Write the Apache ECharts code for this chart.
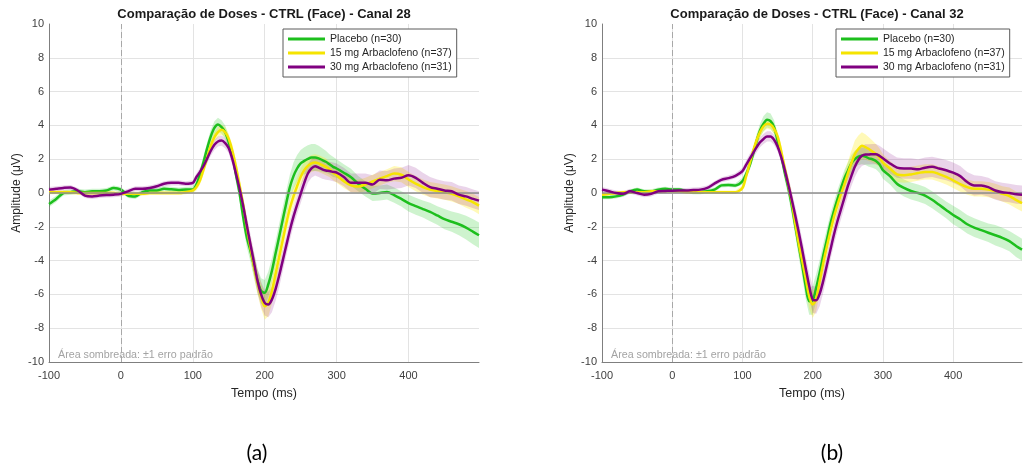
<!DOCTYPE html>
<html>
<head>
<meta charset="utf-8">
<script src="https://cdn.jsdelivr.net/npm/echarts@6/dist/echarts.min.js"></script>
<style>
html,body{margin:0;padding:0;background:#fff;}
#chart{width:1025px;height:467px;}
</style>
</head>
<body>
<div id="chart"></div>
<script>
// ---- Data ----
const TIME = [-100,-90,-80,-70,-60,-50,-40,-30,-20,-10,0,10,20,30,40,50,60,70,80,90,
  100,105,110,115,120,125,130,135,140,145,150,155,160,165,170,175,180,185,190,195,
  200,205,210,215,220,225,230,235,240,245,250,255,260,265,270,275,280,285,290,295,
  300,310,320,330,340,350,360,370,380,390,400,410,420,430,440,450,460,470,480,490,498];

const SERIES_NAMES = ['Placebo (n=30)', '15 mg Arbaclofeno (n=37)', '30 mg Arbaclofeno (n=31)'];
const TITLES = ['Comparação de Doses - CTRL (Face) - Canal 28', 'Comparação de Doses - CTRL (Face) - Canal 32'];
const PANEL_LABELS = ['(a)', '(b)'];
const NOTE = 'Área sombreada: \u00b11 erro padrão';

// Canal 28 means
const CH28_PLACEBO = [-0.65,-0.35,0.0,0.05,0.1,0.05,0.1,0.1,0.15,0.3,0.2,-0.15,-0.2,0.05,0.15,0.15,0.25,0.22,0.18,0.2,
  0.2,0.5,1.1,1.85,2.65,3.35,3.85,4.05,3.9,3.6,3.0,2.25,1.1,0.0,-1.4,-2.6,-3.4,-4.3,-5.2,-5.8,
  -5.9,-5.4,-4.6,-3.6,-2.6,-1.6,-0.6,0.35,1.0,1.45,1.75,1.9,2.02,2.1,2.1,2.05,1.95,1.85,1.7,1.55,
  1.45,1.2,0.93,0.55,0.25,-0.03,0.0,0.06,-0.12,-0.35,-0.6,-0.78,-0.95,-1.12,-1.33,-1.55,-1.7,-1.85,-2.05,-2.3,-2.5];
const CH28_15MG = [0.05,0.05,0.05,0.05,0.0,0.0,0.0,0.0,0.0,0.0,-0.05,-0.05,-0.05,-0.05,0.0,0.0,0.0,0.0,0.0,0.05,
  0.15,0.35,0.75,1.4,2.1,2.8,3.3,3.6,3.75,3.6,3.2,2.5,1.55,0.45,-0.7,-2.0,-3.2,-4.3,-5.3,-6.1,
  -6.7,-6.5,-5.8,-4.8,-3.8,-2.8,-1.8,-0.9,-0.2,0.4,0.95,1.35,1.6,1.75,1.8,1.75,1.65,1.55,1.4,1.2,
  1.05,0.7,0.45,0.38,0.5,0.68,0.85,1.0,1.15,1.08,0.8,0.55,0.35,0.2,0.12,0.05,-0.05,-0.2,-0.38,-0.55,-0.75];
const CH28_30MG = [0.2,0.25,0.3,0.33,0.15,-0.15,-0.2,-0.15,-0.12,-0.1,-0.05,0.1,0.25,0.25,0.3,0.4,0.55,0.6,0.6,0.55,
  0.6,0.95,1.25,1.6,2.05,2.5,2.85,3.05,3.1,2.95,2.65,2.0,1.15,0.25,-0.75,-1.9,-3.0,-4.1,-5.2,-6.0,
  -6.5,-6.6,-6.3,-5.7,-4.9,-4.0,-3.1,-2.2,-1.4,-0.7,-0.05,0.6,1.15,1.45,1.58,1.5,1.4,1.33,1.3,1.25,
  1.2,0.95,0.6,0.6,0.6,0.5,0.78,0.75,0.85,0.9,1.05,0.9,0.6,0.35,0.25,0.15,0.1,-0.1,-0.2,-0.35,-0.45];

// Canal 28 standard errors
const CH28_PLACEBO_SE = [0.2,0.18,0.15,0.15,0.15,0.15,0.15,0.15,0.15,0.15,0.15,0.15,0.15,0.15,0.15,0.15,0.15,0.15,0.15,0.15,
  0.2,0.25,0.3,0.35,0.35,0.4,0.4,0.4,0.4,0.4,0.4,0.4,0.45,0.5,0.55,0.6,0.65,0.7,0.7,0.75,
  0.75,0.75,0.75,0.75,0.75,0.75,0.75,0.75,0.8,0.8,0.8,0.8,0.8,0.8,0.8,0.75,0.7,0.65,0.6,0.6,
  0.55,0.5,0.5,0.45,0.45,0.45,0.45,0.45,0.45,0.45,0.5,0.5,0.5,0.55,0.55,0.6,0.6,0.65,0.7,0.75,0.75];
const CH28_15MG_SE = [0.12,0.12,0.12,0.12,0.12,0.12,0.12,0.12,0.12,0.12,0.12,0.12,0.12,0.12,0.12,0.12,0.12,0.12,0.12,0.12,
  0.15,0.2,0.25,0.3,0.3,0.3,0.3,0.3,0.3,0.3,0.3,0.35,0.4,0.45,0.5,0.55,0.6,0.65,0.7,0.75,
  0.8,0.8,0.75,0.7,0.65,0.6,0.6,0.55,0.55,0.5,0.5,0.5,0.5,0.5,0.5,0.5,0.5,0.5,0.45,0.45,
  0.45,0.4,0.4,0.4,0.4,0.4,0.4,0.4,0.45,0.45,0.45,0.45,0.45,0.45,0.45,0.45,0.45,0.45,0.5,0.5,0.5];
const CH28_30MG_SE = [0.15,0.15,0.15,0.15,0.15,0.15,0.15,0.15,0.15,0.15,0.15,0.15,0.15,0.15,0.15,0.15,0.15,0.15,0.15,0.15,
  0.15,0.2,0.25,0.25,0.3,0.3,0.3,0.3,0.3,0.3,0.3,0.35,0.4,0.45,0.5,0.55,0.6,0.65,0.7,0.75,
  0.75,0.75,0.75,0.7,0.7,0.65,0.6,0.6,0.55,0.55,0.55,0.55,0.55,0.55,0.55,0.55,0.55,0.55,0.55,0.55,
  0.55,0.55,0.55,0.55,0.55,0.55,0.55,0.55,0.6,0.6,0.6,0.6,0.6,0.6,0.55,0.55,0.55,0.55,0.55,0.55,0.55];

// Canal 32 means
const CH32_PLACEBO = [-0.25,-0.25,-0.2,-0.1,0.1,0.2,0.1,0.1,0.2,0.25,0.2,0.2,0.1,0.05,0.05,0.1,0.2,0.45,0.48,0.45,
  0.7,1.1,1.6,2.3,3.05,3.7,4.1,4.33,4.25,3.9,3.1,2.25,1.25,0.35,-0.7,-1.9,-3.1,-4.25,-5.5,-6.4,
  -6.35,-5.6,-4.7,-3.7,-2.8,-1.85,-1.1,-0.4,0.25,0.85,1.3,1.75,2.0,2.15,2.2,2.15,2.05,2.0,1.9,1.7,
  1.35,1.0,0.55,0.3,0.12,0.0,-0.15,-0.4,-0.7,-1.0,-1.3,-1.55,-1.85,-2.05,-2.2,-2.35,-2.5,-2.65,-2.85,-3.15,-3.35];
const CH32_15MG = [-0.1,-0.05,0.0,0.05,0.05,0.05,0.05,0.1,0.1,0.1,0.1,0.1,0.05,0.05,0.05,0.05,0.05,0.05,0.05,0.05,
  0.3,0.95,1.7,2.45,3.1,3.6,3.95,4.1,4.05,3.8,3.35,2.5,1.5,0.55,-0.45,-1.75,-2.95,-4.0,-5.05,-6.1,
  -6.6,-6.25,-5.2,-4.15,-3.2,-2.3,-1.45,-0.75,-0.1,0.5,1.15,1.75,2.3,2.6,2.8,2.72,2.6,2.45,2.3,2.1,
  1.8,1.45,1.1,1.05,1.1,1.18,1.25,1.25,1.12,0.95,0.75,0.52,0.35,0.25,0.25,0.2,0.1,-0.05,-0.18,-0.42,-0.6];
const CH32_30MG = [0.2,0.1,0.0,-0.05,0.1,0.0,-0.1,-0.05,0.1,0.12,0.14,0.15,0.15,0.18,0.2,0.3,0.55,0.78,0.88,1.02,
  1.3,1.65,2.0,2.35,2.7,3.0,3.2,3.35,3.35,3.15,2.75,2.15,1.4,0.55,-0.35,-1.3,-2.3,-3.35,-4.45,-5.5,
  -6.3,-6.35,-5.95,-5.2,-4.3,-3.4,-2.5,-1.7,-1.0,-0.3,0.4,1.0,1.55,1.95,2.2,2.28,2.28,2.3,2.3,2.2,
  2.05,1.75,1.5,1.45,1.45,1.4,1.5,1.55,1.45,1.35,1.2,1.0,0.65,0.45,0.45,0.35,0.15,0.05,0.0,-0.08,-0.1];

// Canal 32 standard errors
const CH32_PLACEBO_SE = [0.12,0.12,0.12,0.12,0.12,0.12,0.12,0.12,0.12,0.12,0.12,0.12,0.12,0.12,0.12,0.12,0.12,0.12,0.12,0.12,
  0.2,0.25,0.3,0.35,0.4,0.4,0.45,0.45,0.45,0.4,0.4,0.4,0.45,0.5,0.55,0.6,0.65,0.7,0.75,0.8,
  0.85,0.8,0.75,0.7,0.65,0.6,0.55,0.55,0.5,0.5,0.5,0.5,0.5,0.5,0.5,0.5,0.5,0.5,0.5,0.5,
  0.5,0.5,0.5,0.5,0.5,0.5,0.5,0.5,0.5,0.5,0.55,0.55,0.55,0.55,0.55,0.55,0.6,0.6,0.6,0.65,0.65];
const CH32_15MG_SE = [0.1,0.1,0.1,0.1,0.1,0.1,0.1,0.1,0.1,0.1,0.1,0.1,0.1,0.1,0.1,0.1,0.1,0.1,0.1,0.1,
  0.15,0.2,0.25,0.3,0.3,0.3,0.3,0.3,0.3,0.3,0.3,0.35,0.4,0.45,0.5,0.55,0.6,0.65,0.7,0.75,
  0.8,0.75,0.7,0.65,0.6,0.6,0.6,0.6,0.6,0.65,0.7,0.75,0.8,0.8,0.8,0.75,0.7,0.65,0.6,0.55,
  0.5,0.45,0.45,0.45,0.45,0.45,0.45,0.45,0.45,0.45,0.45,0.45,0.45,0.45,0.45,0.45,0.45,0.45,0.5,0.5,0.5];
const CH32_30MG_SE = [0.15,0.15,0.15,0.15,0.15,0.15,0.15,0.15,0.15,0.15,0.15,0.15,0.15,0.15,0.15,0.15,0.15,0.15,0.15,0.15,
  0.2,0.25,0.3,0.3,0.3,0.3,0.3,0.3,0.3,0.3,0.3,0.35,0.4,0.45,0.5,0.55,0.6,0.65,0.7,0.75,
  0.8,0.8,0.75,0.7,0.65,0.6,0.6,0.6,0.6,0.6,0.6,0.6,0.6,0.6,0.6,0.6,0.6,0.6,0.6,0.6,
  0.6,0.6,0.6,0.6,0.6,0.6,0.6,0.6,0.6,0.6,0.6,0.6,0.6,0.6,0.55,0.55,0.55,0.55,0.55,0.55,0.55];

// ---- Styling ----
const FONT = "'Liberation Sans', Arial, sans-serif";
const LINE_COLORS = ['#1dbf1d', '#f5e400', '#800080'];
const BAND_COLORS = ['rgba(30,200,30,0.22)', 'rgba(255,235,0,0.28)', 'rgba(128,0,128,0.17)'];

const PANELS = [
  {means:[CH28_PLACEBO, CH28_15MG, CH28_30MG], ses:[CH28_PLACEBO_SE, CH28_15MG_SE, CH28_30MG_SE]},
  {means:[CH32_PLACEBO, CH32_15MG, CH32_30MG], ses:[CH32_PLACEBO_SE, CH32_15MG_SE, CH32_30MG_SE]}
];
const GRID_LEFT = [49, 602];
const GRID_TOP = 24, GRID_W = 430, GRID_H = 338;

const chart = echarts.init(document.getElementById('chart'), null, {renderer:'canvas'});

const grids = [], xAxes = [], yAxes = [], series = [], titles = [], legends = [], graphics = [];

function bandRenderer(mean, se, color) {
  return function (params, api) {
    const upper = TIME.map((t, i) => api.coord([t, mean[i] + se[i]]));
    const lower = TIME.map((t, i) => api.coord([t, mean[i] - se[i]])).reverse();
    const cs = params.coordSys;
    return {
      type: 'polygon',
      shape: { points: upper.concat(lower) },
      style: { fill: color, stroke: null },
      clipPath: { type: 'rect', shape: { x: cs.x, y: cs.y, width: cs.width, height: cs.height } },
      silent: true
    };
  };
}

PANELS.forEach((p, k) => {
  const gl = GRID_LEFT[k];
  grids.push({left: gl, top: GRID_TOP, width: GRID_W, height: GRID_H, containLabel: false});
  xAxes.push({
    type:'value', gridIndex:k, min:-100, max:498, interval:100,
    axisLine:{show:true, onZero:false, lineStyle:{color:'#7f7f7f', width:1}},
    axisTick:{show:false},
    axisLabel:{color:'#404040', fontSize:11, fontFamily:FONT, margin:8,
      formatter: v => (v % 100 === 0 ? String(v) : '')},
    splitLine:{show:true, showMaxLine:false, lineStyle:{color:'#e3e3e3', width:1}},
    name:'Tempo (ms)', nameLocation:'middle', nameGap:25,
    nameTextStyle:{color:'#262626', fontSize:12.5, fontFamily:FONT}
  });
  yAxes.push({
    type:'value', gridIndex:k, min:-10, max:10, interval:2,
    axisLine:{show:true, onZero:false, lineStyle:{color:'#7f7f7f', width:1}},
    axisTick:{show:false},
    axisLabel:{color:'#404040', fontSize:11, fontFamily:FONT, margin:5},
    splitLine:{show:true, showMaxLine:false, lineStyle:{color:'#e3e3e3', width:1}},
    name:'Amplitude (\u03bcV)', nameLocation:'middle', nameGap:26, nameRotate:90,
    nameTextStyle:{color:'#262626', fontSize:12, fontFamily:FONT}
  });
  // bands (±1 SE)
  p.means.forEach((m, j) => {
    series.push({
      type:'custom', xAxisIndex:k, yAxisIndex:k, data:[[0, 0]], silent:true, z:1,
      renderItem: bandRenderer(m, p.ses[j], BAND_COLORS[j])
    });
  });
  // reference lines
  series.push({
    type:'line', xAxisIndex:k, yAxisIndex:k, data:[], silent:true, z:2,
    markLine:{symbol:'none', silent:true, animation:false, label:{show:false},
      data:[
        {yAxis:0, lineStyle:{color:'#8e8e8e', width:1.5, type:'solid'}},
        {xAxis:0, lineStyle:{color:'#a8a8a8', width:1, type:[6,3]}}
      ]}
  });
  // mean lines
  p.means.forEach((m, j) => {
    series.push({
      name: SERIES_NAMES[j], type:'line', xAxisIndex:k, yAxisIndex:k,
      data: TIME.map((t, i) => [t, m[i]]),
      symbol:'none', smooth:0.3, z:3 + j,
      color: LINE_COLORS[j],
      lineStyle:{color:LINE_COLORS[j], width:2.5}
    });
  });
  titles.push({
    text: TITLES[k], left: gl + GRID_W / 2, top: 8, textAlign:'center', padding:0,
    textStyle:{fontSize:13, fontWeight:'bold', color:'#1a1a1a', fontFamily:FONT}
  });
  legends.push({
    data: SERIES_NAMES, orient:'vertical', left: gl + 234, top: 29,
    icon:'rect', itemWidth:37, itemHeight:3, itemGap:2,
    backgroundColor:'#fff', borderColor:'#5a5a5a', borderWidth:1, borderRadius:0,
    padding:[4, 5, 4, 5],
    textStyle:{fontSize:10.5, color:'#262626', fontFamily:FONT, lineHeight:12},
    selectedMode:false
  });
  graphics.push({
    type:'text', left: gl + 9, top: 350,
    style:{text: NOTE, fill:'#a3a3a3', font:'10.7px ' + FONT}
  });
  graphics.push({
    type:'text', x: (k === 0 ? 257 : 832), y: 453,
    style:{text: PANEL_LABELS[k], fill:'#000', font:'21px Lato, "Open Sans", sans-serif',
      textAlign:'center', textVerticalAlign:'middle'}
  });
});

chart.setOption({
  animation:false,
  backgroundColor:'#ffffff',
  title: titles,
  legend: legends,
  grid: grids,
  xAxis: xAxes,
  yAxis: yAxes,
  series: series,
  graphic: graphics
});
</script>
</body>
</html>
